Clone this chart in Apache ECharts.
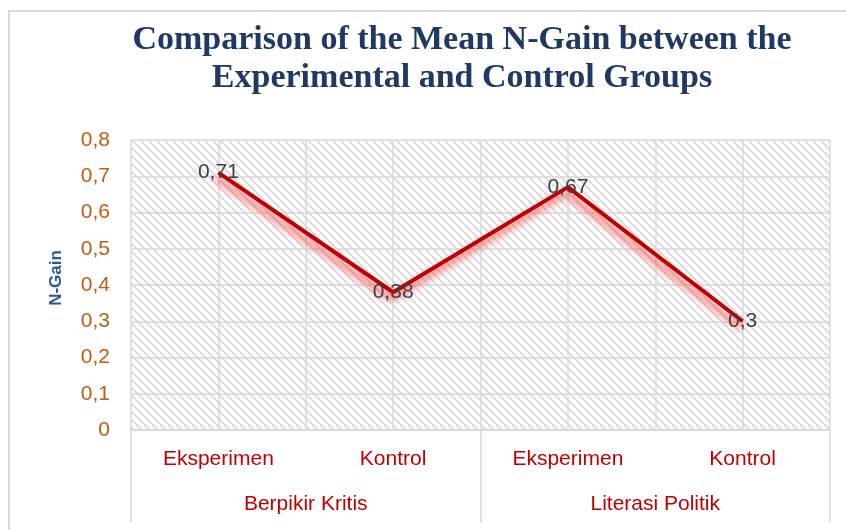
<!DOCTYPE html>
<html>
<head>
<meta charset="utf-8">
<script src="https://cdn.jsdelivr.net/npm/echarts@6/dist/echarts.min.js"></script>
<style>html,body{margin:0;padding:0;background:#fff}#c{width:846px;height:530px}</style>
</head>
<body>
<div id="c"></div>
<script>
const titleLines = ['Comparison of the Mean N-Gain between the', 'Experimental and Control Groups'];
const categories = ['Eksperimen', 'Kontrol', 'Eksperimen', 'Kontrol'];
const groups = ['Berpikir Kritis', 'Literasi Politik'];
const nGain = [0.71, 0.38, 0.67, 0.30];
const yTicks = { min: 0, max: 0.8, interval: 0.1 };
const yName = 'N-Gain';

function hatch() {
  const s = 8;
  const c = document.createElement('canvas');
  c.width = s; c.height = s;
  const g = c.getContext('2d');
  g.fillStyle = '#ffffff';
  g.fillRect(0, 0, s, s);
  g.strokeStyle = '#dcdcdc';
  g.lineWidth = 2.1;
  for (const o of [-s, 0, s]) {
    g.beginPath();
    g.moveTo(o, 0);
    g.lineTo(o + s, s);
    g.stroke();
  }
  return c;
}

const chart = echarts.init(document.getElementById('c'), null, { renderer: 'canvas' });
const grayLine = '#d9d9d9';
const fmt = v => String(Math.round(v * 100) / 100).replace('.', ',');

chart.setOption({
  animation: false,
  backgroundColor: '#ffffff',
  graphic: [{
    type: 'rect',
    shape: { x: 9, y: 11, width: 900, height: 600 },
    style: { fill: 'none', stroke: grayLine, lineWidth: 2 },
    silent: true, z: -10
  }],
  title: {
    text: titleLines.join('\n'),
    left: 457,
    top: 16,
    textAlign: 'center',
    textStyle: {
      fontFamily: 'Liberation Serif',
      fontWeight: 'bold',
      fontSize: 34,
      lineHeight: 38,
      color: '#1F3864'
    }
  },
  grid: {
    left: 131, right: 16, top: 140, bottom: 100,
    show: true,
    borderWidth: 0,
    backgroundColor: { image: hatch(), repeat: 'repeat' }
  },
  xAxis: [{
    type: 'category',
    data: categories,
    boundaryGap: true,
    position: 'bottom',
    axisLine: { show: true, lineStyle: { color: grayLine, width: 1.5 } },
    axisTick: { show: false },
    splitLine: { show: false },
    axisLabel: {
      color: '#C00000', fontSize: 21, fontFamily: 'Liberation Sans',
      margin: 19, interval: 0
    }
  }, {
    type: 'category',
    data: groups,
    boundaryGap: true,
    position: 'bottom',
    axisLine: { show: true, lineStyle: { color: grayLine, width: 1.5 } },
    axisTick: { show: true, length: 93, lineStyle: { color: grayLine, width: 1.5 } },
    splitLine: { show: false },
    axisLabel: {
      color: '#C00000', fontSize: 21, fontFamily: 'Liberation Sans',
      margin: 64, interval: 0
    }
  }, {
    type: 'value',
    min: 0, max: 8, interval: 1,
    position: 'bottom',
    axisLine: { show: false },
    axisTick: { show: false },
    axisLabel: { show: false },
    splitLine: { show: true, lineStyle: { color: grayLine, width: 1.5 } }
  }],
  yAxis: {
    type: 'value',
    min: yTicks.min, max: yTicks.max, interval: yTicks.interval,
    name: yName,
    nameLocation: 'middle',
    nameGap: 66,
    nameRotate: 90,
    nameTextStyle: {
      color: '#2F5597', fontSize: 17, fontWeight: 'bold', fontFamily: 'Liberation Sans',
      padding: [0, 0, 0, 14]
    },
    axisLine: { show: false },
    axisTick: { show: false },
    axisLabel: {
      color: '#C55A11', fontSize: 21, fontFamily: 'Liberation Sans',
      margin: 21, formatter: fmt
    },
    splitLine: { show: true, lineStyle: { color: grayLine, width: 1.5 } }
  },
  series: [{
    type: 'line',
    xAxisIndex: 0,
    data: nGain,
    symbol: 'circle',
    symbolSize: 1,
    showSymbol: true,
    itemStyle: { color: 'rgba(0,0,0,0)' },
    lineStyle: {
      color: '#C00000', width: 4,
      shadowColor: 'rgba(255,70,70,1)', shadowBlur: 7,
      shadowOffsetX: -2, shadowOffsetY: 6
    },
    label: {
      show: true, position: 'inside',
      color: '#404040', fontSize: 21, fontFamily: 'Liberation Sans',
      formatter: p => fmt(p.value)
    },
    z: 5
  }]
});
</script>
</body>
</html>
